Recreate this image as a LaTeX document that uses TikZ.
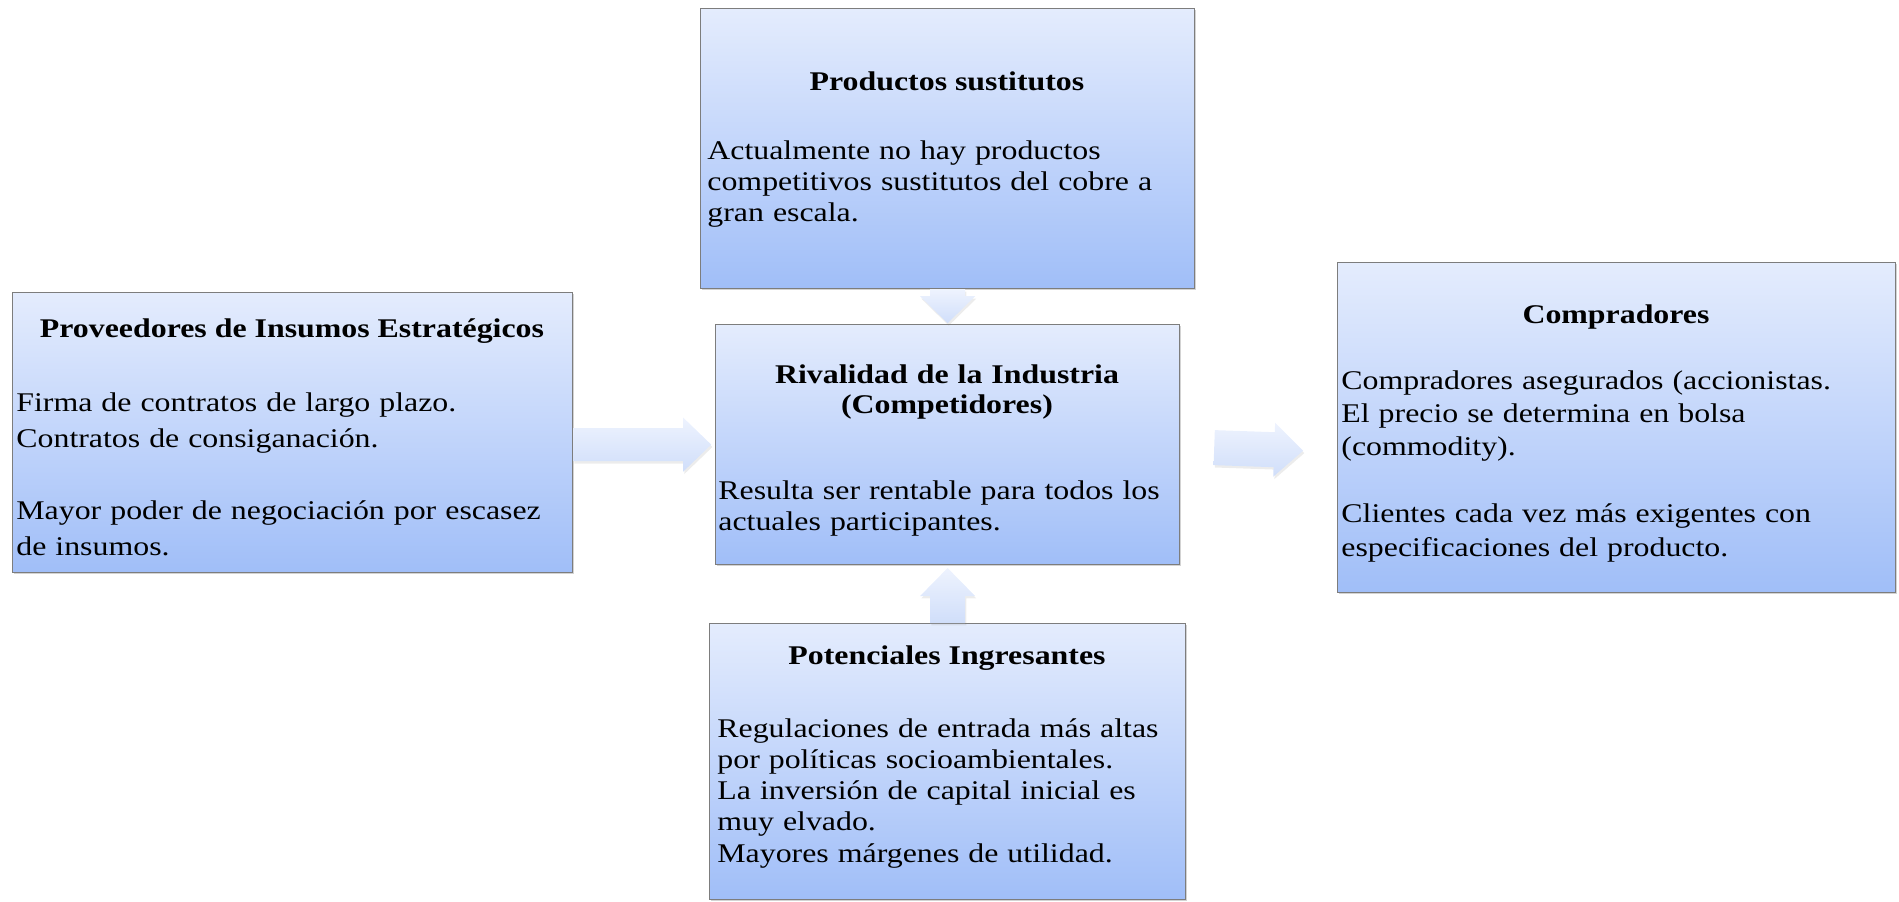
\documentclass[tikz,border=0pt]{standalone}
\usepackage{fontspec}
\setmainfont{Liberation Serif}[FakeStretch=1.18]
\usetikzlibrary{shadows,calc}

\definecolor{boxtop}{RGB}{228,236,253}
\definecolor{boxbot}{RGB}{160,190,248}
\definecolor{boxline}{RGB}{125,125,125}
\definecolor{arrtop}{RGB}{238,243,254}
\definecolor{arrbot}{RGB}{208,222,250}

\begin{document}
\begin{tikzpicture}[x=0.5pt,y=-0.5pt,
  box/.style={rectangle, inner sep=0pt, anchor=north west, draw=boxline, line width=0.6pt,
    top color=boxtop, bottom color=boxbot,
    drop shadow={shadow xshift=0.8pt, shadow yshift=-0.9pt, opacity=0.35}},
  blockarrow/.style={draw=none, top color=arrtop, bottom color=arrbot,
    drop shadow={shadow xshift=0.6pt, shadow yshift=-1.2pt, opacity=0.15}},
  title/.style={inner sep=0pt, anchor=base, font=\fontsize{13.5pt}{15pt}\selectfont\bfseries},
  body/.style={inner sep=0pt, anchor=base west, align=left, text width=290pt,
    font=\fontsize{13.5pt}{#1}\selectfont}
]
\useasboundingbox (0,0) rectangle (1899,901);

% boxes
\node[box, minimum width=247pt, minimum height=140pt] (prod) at (700,8) {};
\node[box, minimum width=280pt, minimum height=140pt] (prov) at (12,292) {};
\node[box, minimum width=232pt, minimum height=120pt] (riv) at (715,324) {};
\node[box, minimum width=279pt, minimum height=165pt] (comp) at (1337,262) {};
\node[box, minimum width=238pt, minimum height=138pt] (pot) at (709,623) {};

% block arrows (connectors)
\path[blockarrow, shift={(riv.center |- prod.south)}]
  (-17.5,0) -- (-17.5,7) -- (-27.5,7) -- (0,34) -- (27.5,7) -- (17.5,7) -- (17.5,0) -- cycle;
\path[blockarrow, shift={(riv.center |- pot.north)}]
  (-17.5,0) -- (-17.5,-27) -- (-27.5,-27) -- (0,-55) -- (27.5,-27) -- (17.5,-27) -- (17.5,0) -- cycle;
\path[blockarrow, shift={(prov.east |- riv.center)}]
  (0,-16.5) -- (110,-16.5) -- (110,-27) -- (138,0) -- (110,27) -- (110,16.5) -- (0,16.5) -- cycle;
\path[blockarrow, shift={($(riv.east)+(34,3)$)}, rotate=-2]
  (0,-17.5) -- (60,-17.5) -- (60,-27) -- (89,0) -- (60,27) -- (60,17.5) -- (0,17.5) -- cycle;

% texts
\node[title] (prodT) at (947,90) {Productos sustitutos};
\node[body=15.65pt] (prodB) at (707,159) {Actualmente no hay productos\\competitivos sustitutos del cobre a\\gran escala.};

\node[title, text width=232pt, align=center] (rivT) at (947,383) {Rivalidad de la Industria\\(Competidores)};
\node[body=15.65pt] (rivB) at (718,499) {Resulta ser rentable para todos los\\actuales participantes.};

\node[title] (provT) at (292,337) {Proveedores de Insumos Estratégicos};
\node[body=18pt] (provB) at (16,411) {Firma de contratos de largo plazo.\\Contratos de consiganación.\\[18pt]Mayor poder de negociación por escasez\\de insumos.};

\node[title] (compT) at (1616,323) {Compradores};
\node[body=16.7pt] (compB) at (1341,389) {Compradores asegurados (accionistas.\\El precio se determina en bolsa\\(commodity).\\[16.7pt]Clientes cada vez más exigentes con\\especificaciones del producto.};

\node[title] (potT) at (947,664) {Potenciales Ingresantes};
\node[body=15.65pt] (potB) at (717,737) {Regulaciones de entrada más altas\\por políticas socioambientales.\\La inversión de capital inicial es\\muy elvado.\\Mayores márgenes de utilidad.};
\end{tikzpicture}
\end{document}
